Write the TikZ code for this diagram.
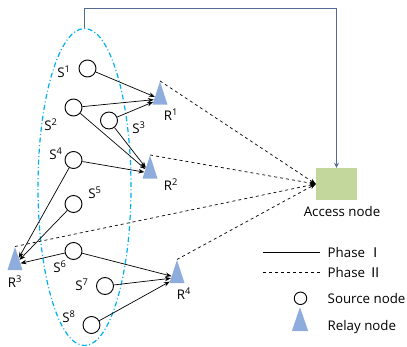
\documentclass[tikz,border=0pt]{standalone}
\usepackage{fontspec}
\setmainfont{Open Sans}
\newfontfamily\cjk{Noto Sans CJK KR}
\usetikzlibrary{shapes.geometric,arrows.meta}

\definecolor{groupcyan}{RGB}{0,176,240}
\definecolor{relayblue}{RGB}{142,172,220}
\definecolor{accgreen}{RGB}{195,214,155}
\definecolor{linkblue}{RGB}{85,105,150}

\begin{document}
\begin{tikzpicture}[x=1pt,y=-1pt,
  src/.style={circle,draw,line width=0.9pt,minimum size=17pt,inner sep=0pt},
  relay/.style={isosceles triangle,isosceles triangle stretches,shape border rotate=90,fill=relayblue,minimum width=15pt,minimum height=23pt,inner sep=0pt},
  lbl/.style={inner sep=0pt,text depth=0pt,font=\fontsize{13.3}{15}\selectfont},
  ph1/.style={line width=0.7pt,-{Stealth[length=6pt,width=4.5pt]}},
  ph2/.style={line width=0.7pt,dashed,-{Stealth[length=6pt,width=4.5pt]}}]

\useasboundingbox (0,0) rectangle (407,347);

% the sources and their group
\node[ellipse,draw=groupcyan,line width=1.2pt,dash pattern=on 5pt off 2.5pt on 1pt off 2.5pt,minimum width=93pt,minimum height=317pt] (grp) at (84.5,187) {};
\foreach \n/\x/\y in {1/87.5/68.5, 2/73.5/107.5, 3/109/120.5, 4/73.5/160, 5/73.5/204, 6/73.5/251, 7/105/286, 8/91.5/325}
  \node[src] (s\n) at (\x,\y) {};
\foreach \n/\x/\y in {1/64/72, 2/51/125, 3/139/128, 4/56/154, 5/95/193, 6/60/267, 7/82/285, 8/69/317}
  \node[lbl] (ls\n) at (\x,\y) {S\textsuperscript{\n}};

% relays
\foreach \n/\x/\y in {1/160/81, 2/150/155, 3/15/246.5, 4/177/259.5}
  \node[relay,anchor=apex] (r\n) at (\x,\y) {};
\foreach \n/\x/\y in {1/171/115, 2/171/185, 3/15/282, 4/184/294}
  \node[lbl] (lr\n) at (\x,\y) {R\textsuperscript{\n}};

% access node
\node[fill=accgreen,minimum width=41pt,minimum height=32pt,inner sep=0pt] (acc) at (336.5,184) {};
\node[lbl] (lacc) at (342,211) {Access node};

\coordinate (turn) at (84.5,8.5);
\draw[linkblue,line width=1.5pt,-{Stealth[length=5pt,width=5pt]}] (grp.north) -- (turn) -| (acc.north);

% phase I and phase II
\foreach \a/\b in {s1/r1, s2/r1, s3/r1, s2/r2, s3/r2, s4/r2, s4/r3, s5/r3, s6/r3, s6/r4, s7/r4, s8/r4}
  \draw[ph1] (\a) -- (\b);
\foreach \b in {r1,r2,r3,r4}
  \draw[ph2] (\b.apex) -- (acc.west);

% legend
\draw[line width=0.7pt] (263,252) -- (320,252);
\node[lbl,anchor=west] (lph1) at (327.5,252) {Phase {\cjk Ⅰ}};
\draw[line width=0.7pt,dashed] (263,272) -- (320,272);
\node[lbl,anchor=west] (lph2) at (327.5,272) {Phase {\cjk Ⅱ}};
\node[src,minimum size=12.5pt] (lsrc) at (300.5,298.3) {};
\node[lbl,anchor=west] (llsrc) at (327.5,298.3) {Source node};
\node[relay,anchor=apex,minimum width=16.5pt,minimum height=24pt] (lrel) at (300,306.7) {};
\node[lbl,anchor=west] (llrel) at (327.5,325) {Relay node};
\end{tikzpicture}
\end{document}
